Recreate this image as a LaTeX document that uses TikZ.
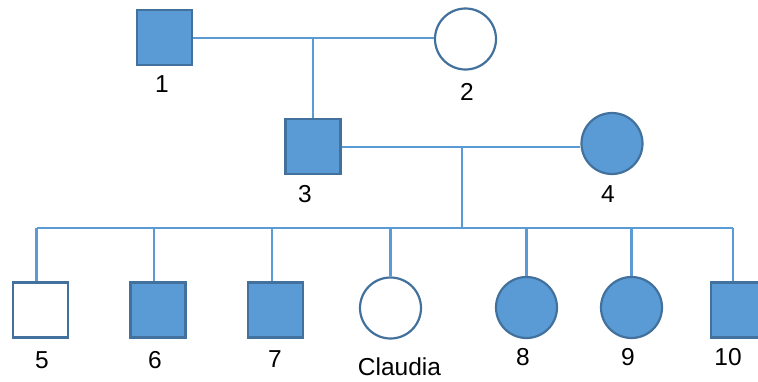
\documentclass[tikz,border=0pt]{standalone}
\usepackage{fontspec}
\setmainfont{Liberation Sans}
\definecolor{fillblue}{HTML}{5B9BD5}
\definecolor{edgeblue}{HTML}{41719C}
\begin{document}
\begin{tikzpicture}[x=1pt,y=-1pt,
  male/.style={rectangle, draw=edgeblue, line width=2.2pt, minimum size=55pt, inner sep=0pt, fill=white},
  female/.style={circle, draw=edgeblue, line width=2.2pt, minimum size=61pt, inner sep=0pt, fill=white},
  affected/.style={fill=fillblue},
  conn/.style={draw=fillblue, line width=2.5pt},
  lbl/.style={anchor=base, font=\fontsize{24.5}{24.5}\selectfont, inner sep=0pt}]
\useasboundingbox (0,0) rectangle (758,381);
\clip (0,0) rectangle (758,381);
% generation I
\node[male, affected] (n1) at (164.5,37.5) {};
\node[female] (n2) at (465.5,39) {};
\coordinate (m1) at (313,38);
\draw[conn] (n1.east |- m1) -- (n2.west |- m1);
% generation II
\node[male, affected] (n3) at (313,146.5) {};
\node[female, affected] (n4) at (612,143.5) {};
\draw[conn] (m1) -- (n3.north);
\coordinate (m2) at (462,147);
\coordinate (s) at (462,228);
\draw[conn] (n3.east |- m2) -- (n4.west |- m2);
\draw[conn] (m2) -- (s);
% generation III
\node[male] (n5) at (40.5,310) {};
\node[male, affected] (n6) at (158,310) {};
\node[male, affected] (n7) at (275.5,310) {};
\node[female] (nc) at (390.5,308) {};
\node[female, affected] (n8) at (526.5,307.5) {};
\node[female, affected] (n9) at (631.5,307.5) {};
\node[male, affected] (n10) at (738.5,310) {};
\coordinate (d5) at ([xshift=-4pt]n5.north);
\coordinate (d6) at ([xshift=-4pt]n6.north);
\coordinate (d7) at ([xshift=-3.5pt]n7.north);
\coordinate (d10) at ([xshift=-5.5pt]n10.north);
\draw[conn] (d5 |- s) -- (d10 |- s);
\foreach \c in {d5,d6,d7,nc.north,n8.north,n9.north,d10}
  \draw[conn] (\c |- s) -- (\c);
% labels
\node[lbl] (l1) at (162,92) {1};
\node[lbl] (l2) at (467,100) {2};
\node[lbl] (l3) at (305,202) {3};
\node[lbl] (l4) at (608,202) {4};
\node[lbl] (l5) at (42,368) {5};
\node[lbl] (l6) at (155,368) {6};
\node[lbl] (l7) at (275,367) {7};
\node[lbl] (lc) at (399.5,375.5) {Claudia};
\node[lbl] (l8) at (523,365) {8};
\node[lbl] (l9) at (628,365) {9};
\node[lbl] (l10) at (728,365) {10};
\end{tikzpicture}
\end{document}
